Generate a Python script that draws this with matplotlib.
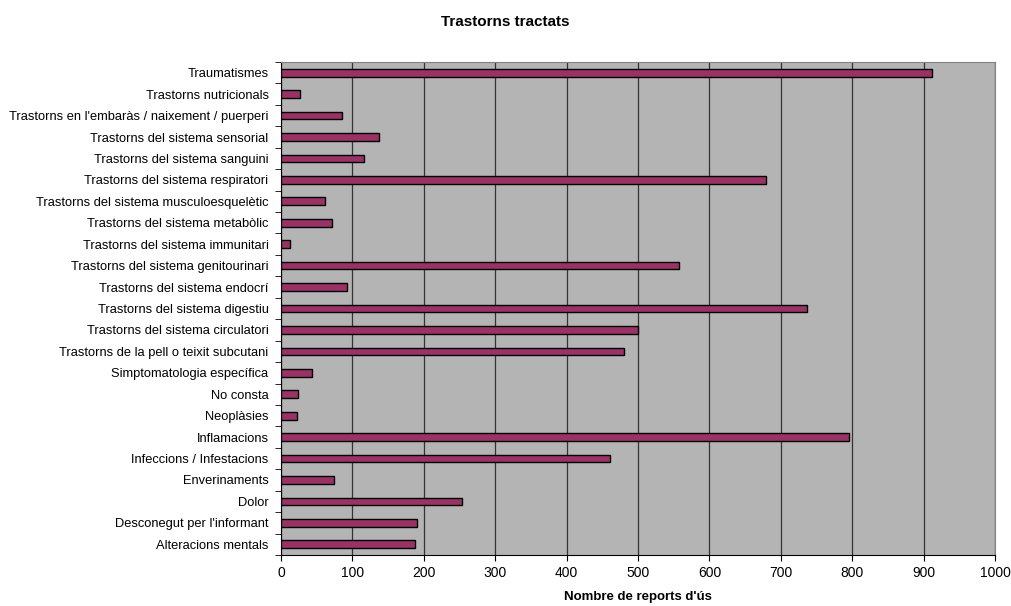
import matplotlib
matplotlib.use("Agg")
import matplotlib.pyplot as plt
import numpy as np

plt.rcParams['font.family'] = ['Liberation Sans', 'DejaVu Sans']

categories = [
    "Traumatismes",
    "Trastorns nutricionals",
    "Trastorns en l'embaràs / naixement / puerperi",
    "Trastorns del sistema sensorial",
    "Trastorns del sistema sanguini",
    "Trastorns del sistema respiratori",
    "Trastorns del sistema musculoesquelètic",
    "Trastorns del sistema metabòlic",
    "Trastorns del sistema immunitari",
    "Trastorns del sistema genitourinari",
    "Trastorns del sistema endocrí",
    "Trastorns del sistema digestiu",
    "Trastorns del sistema circulatori",
    "Trastorns de la pell o teixit subcutani",
    "Simptomatologia específica",
    "No consta",
    "Neoplàsies",
    "Inflamacions",
    "Infeccions / Infestacions",
    "Enverinaments",
    "Dolor",
    "Desconegut per l'informant",
    "Alteracions mentals",
]
values = [912, 26, 85, 137, 116, 679, 62, 71, 13, 558, 92, 736, 500, 480,
          43, 24, 22, 795, 461, 74, 254, 191, 187]

x_ticks = list(range(0, 1001, 100))

fig = plt.figure(figsize=(10.11, 6.06), dpi=100)
ax = fig.add_axes([281 / 1011, 1 - 555 / 606, (995 - 281) / 1011, (555 - 62) / 606])

n = len(categories)
ypos = np.arange(n)[::-1]
ax.set_facecolor('#B4B4B4')
ax.barh(ypos, values, height=0.36, color='#993366', edgecolor='black',
        linewidth=1.0, zorder=3)

ax.set_xlim(0, 1000)
ax.set_ylim(-0.5, n - 0.5)
ax.set_xticks(x_ticks)
ax.set_xticklabels([str(t) for t in x_ticks], fontsize=10)
ax.xaxis.grid(True, color='#333333', linewidth=0.9, zorder=1)
ax.set_axisbelow(True)

ax.set_yticks(ypos)
ax.set_yticklabels(categories, fontsize=9.3)
ax.tick_params(axis='y', length=0, pad=9)
ax.set_yticks(np.arange(-0.5, n, 1.0), minor=True)
ax.tick_params(axis='y', which='minor', length=4, direction='out', color='black')
ax.tick_params(axis='x', length=4, direction='out', color='black', pad=4)

for side in ['top', 'right']:
    ax.spines[side].set_color('#808080')
for side in ['left', 'bottom']:
    ax.spines[side].set_color('black')

ax.set_xlabel("Nombre de reports d'ús", fontsize=9.5, fontweight='bold', labelpad=8)
fig.text(0.5, 1 - 22 / 606, "Trastorns tractats", ha='center', va='center',
         fontsize=11, fontweight='bold')

fig.savefig('out.png', dpi=100)
